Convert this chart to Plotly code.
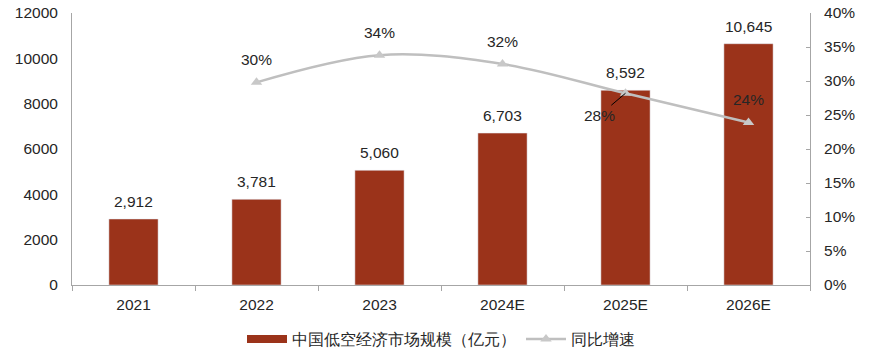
import plotly.graph_objects as go

categories = ["2021", "2022", "2023", "2024E", "2025E", "2026E"]
market_size = [2912, 3781, 5060, 6703, 8592, 10645]
growth = [None, 0.298, 0.338, 0.325, 0.282, 0.239]
growth_labels = ["", "30%", "34%", "32%", "28%", "24%"]
bar_name = "中国低空经济市场规模（亿元）"
line_name = "同比增速"

BAR_COLOR = "#9B331A"
LINE_COLOR = "#BFBFBF"
FONT = "Liberation Sans, Arial, sans-serif"
TXT = "#262626"
FS = 15.5

fig = go.Figure()
fig.add_trace(go.Bar(x=categories, y=market_size, marker_color=BAR_COLOR,
                     width=0.4, showlegend=False, name=bar_name))
fig.add_trace(go.Scatter(x=[categories[0]], y=[None], mode="lines", name=bar_name,
                         line=dict(color=BAR_COLOR, width=8)))
fig.add_trace(go.Scatter(x=categories, y=growth, yaxis="y2", mode="lines+markers",
                         name=line_name, line=dict(color=LINE_COLOR, width=2.5, shape="spline", smoothing=1.0),
                         marker=dict(symbol="triangle-up", size=10, color="#C8C8C8"),
                         connectgaps=False))

annotations = []
for i, v in enumerate(market_size):
    annotations.append(dict(x=i, y=v, xref="x", yref="y", text=f"{v:,}", showarrow=False,
                            yanchor="bottom", yshift=7, font=dict(size=FS, color=TXT, family=FONT)))
for i, (g, lab) in enumerate(zip(growth, growth_labels)):
    if g is None:
        continue
    if lab == "28%":
        annotations.append(dict(x=i, y=g, xref="x", yref="y2", text=lab, showarrow=True,
                                arrowhead=0, arrowwidth=1, arrowcolor="#000000",
                                ax=-26, ay=22, xanchor="center", yanchor="middle",
                                font=dict(size=FS, color=TXT, family=FONT)))
    else:
        annotations.append(dict(x=i, y=g, xref="x", yref="y2", text=lab, showarrow=False,
                                yanchor="bottom", yshift=12, font=dict(size=FS, color=TXT, family=FONT)))

fig.update_layout(
    width=869, height=352,
    margin=dict(l=72, r=59, t=13, b=67, autoexpand=False),
    paper_bgcolor="white", plot_bgcolor="white",
    font=dict(family=FONT, size=FS, color=TXT),
    bargap=0.6,
    xaxis=dict(type="category", categoryorder="array", categoryarray=categories,
               range=[-0.5, len(categories) - 0.5], automargin=False,
               showgrid=False, showline=True, linecolor="#A6A6A6", linewidth=1,
               ticks="outside", tickson="boundaries", ticklen=5, tickcolor="#A6A6A6",
               ticklabelstandoff=5, tickfont=dict(size=FS, color=TXT)),
    yaxis=dict(range=[0, 12000], dtick=2000, showgrid=False, showline=True, automargin=False,
               linecolor="#A6A6A6", linewidth=1, zeroline=False, tickformat="d",
               ticklabelstandoff=10, tickfont=dict(size=FS, color=TXT)),
    yaxis2=dict(range=[0, 0.4], dtick=0.05, overlaying="y", side="right", showgrid=False,
                showline=True, linecolor="#A6A6A6", linewidth=1, tickformat=".0%", automargin=False,
                ticks="inside", ticklen=4, tickcolor="#A6A6A6", zeroline=False,
                ticklabelstandoff=10, tickfont=dict(size=FS, color=TXT)),
    legend=dict(orientation="h", x=0.5, xanchor="center", y=-0.2, yanchor="middle",
                font=dict(size=FS, color=TXT), itemwidth=40),
    annotations=annotations,
)

fig.write_html("out.html")
